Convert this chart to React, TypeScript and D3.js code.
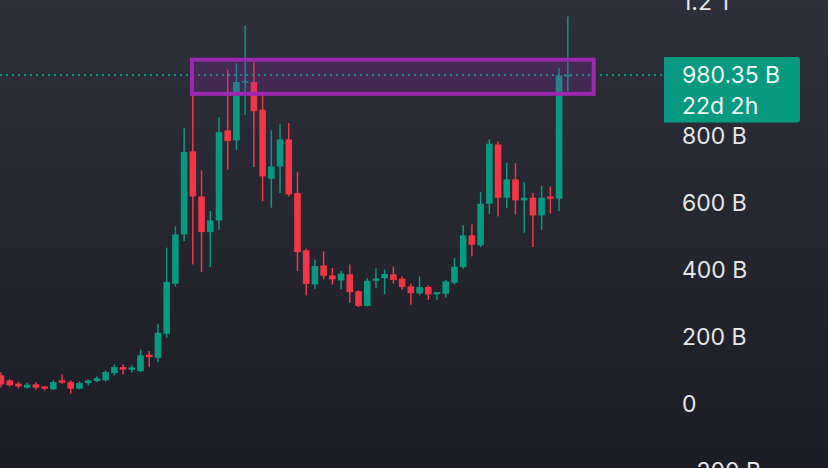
import React from "react";
import * as d3 from "d3";

// OHLC values in billions (B)
const opens = [83.6, 68.7, 58.8, 46.9, 56.7, 50.7, 41.8, 68.7, 63.6, 43.9, 60.6, 66.6, 68.7, 90.4, 108.4, 100.6, 96.4, 145.4, 136.4, 208.1, 357.3, 504.5, 752.2, 617.9, 511.3, 546.3, 814.9, 785.1, 957, 959.1, 876.7, 670.8, 707.4, 788.0, 627.8, 456.7, 355.2, 411.9, 382.1, 367.2, 385.1, 334.9, 291.0, 366.3, 373.7, 385.1, 372.2, 349.2, 328.4, 347.8, 325.4, 327.4, 359.7, 406.9, 501.5, 471.6, 596.1, 773.1, 614.0, 668.6, 606.0, 614.0, 561.2, 617.9, 611.0, 976.5];
const highs = [92.5, 71.6, 64.2, 61.8, 63.6, 52.2, 68.7, 86.6, 68.7, 65.7, 71.6, 80.6, 98.5, 116.4, 116.4, 113.4, 160.3, 156.7, 237.9, 464.8, 528.3, 823.0, 974.6, 695.5, 574.0, 854.6, 996.1, 1014.9, 1128.3, 1023.9, 921.5, 814.9, 832.8, 836.7, 690.4, 461.8, 429.2, 453.7, 404.5, 394.9, 414.9, 337.3, 374.6, 403.0, 399.4, 409.0, 379.1, 357.3, 379.1, 352.2, 332.2, 368.6, 434.3, 532.2, 534.3, 630.7, 788.0, 782.1, 718.5, 717.3, 660.6, 627.8, 648.6, 647.7, 1000.9, 1155.2];
const lows = [47.8, 50.7, 43.9, 44.8, 40.9, 38.8, 40.3, 58.8, 29.0, 41.8, 53.7, 63.6, 65.7, 83.6, 86.6, 91.6, 93.4, 109.0, 123.3, 196.1, 349.2, 484.5, 414.9, 391.9, 406.9, 518.5, 697.6, 757.3, 859.7, 705.4, 603.0, 584.2, 627.8, 617.9, 394.9, 322.4, 342.4, 370.1, 354.6, 340.3, 300.0, 287.4, 289.5, 344.8, 326.3, 358.2, 339.4, 294.9, 322.4, 308.9, 309.5, 315.5, 355.2, 402.1, 438.8, 466.6, 566.2, 558.2, 583.0, 564.2, 509.5, 466.6, 518.5, 566.2, 574.0, 932.2];
const closes = [56.7, 53.7, 50.7, 55.8, 46.9, 43.9, 63.6, 61.8, 43.9, 60.6, 68.7, 75.5, 93.4, 108.4, 100.6, 107.5, 143.3, 138.2, 211.0, 362.1, 504.5, 750.1, 617.9, 511.3, 546.3, 809.8, 783.0, 959.1, 962.7, 872.2, 677.6, 707.4, 788.0, 623.9, 451.6, 356.7, 409.8, 380.6, 370.1, 387.2, 332.2, 291.0, 366.3, 373.1, 386.3, 368.1, 347.2, 329.2, 347.2, 325.4, 332.2, 364.2, 407.5, 501.5, 473.7, 596.1, 775.2, 614.0, 668.6, 606.0, 614.0, 561.2, 614.0, 611.0, 979.1, 980.35];

// visible axis ticks (the 1 T tick is hidden behind the price label)
const tickValues = [-200, 0, 200, 400, 600, 800, 1200];
const tickLabels = ["\u2212200 B", "0", "200 B", "400 B", "600 B", "800 B", "1.2 T"];

const lastPrice = 980.35;
const lastPriceLabel = "980.35 B";
const countdownLabel = "22d 2h";

// highlighted zone (index range and value range)
const zoneIndex = [21.9, 67.97];
const zoneValues = [924, 1026];

const W = 828;
const H = 468;
const UP = "#089981";
const DOWN = "#f23645";

export default function App() {
  const n = opens.length;
  const x = d3.scaleLinear().domain([0, n - 1]).range([1, 567.8]);
  const y = d3.scaleLinear().domain([-200, 1200]).range([470.4, 1.4]);
  const bodyW = 6.6;

  const candles = opens.map((o, i) => {
    const c = closes[i];
    const up = c >= o;
    const color = up ? UP : DOWN;
    const cx = x(i);
    const top = y(Math.max(o, c));
    const bot = y(Math.min(o, c));
    return (
      <g key={i}>
        <rect x={cx - 0.75} y={y(highs[i])} width={1.5} height={y(lows[i]) - y(highs[i])} fill={color} />
        <rect x={cx - bodyW / 2} y={top} width={bodyW} height={Math.max(1.6, bot - top)} fill={color} />
      </g>
    );
  });

  const py = y(lastPrice);
  const zx0 = x(zoneIndex[0]);
  const zx1 = x(zoneIndex[1]);
  const zy0 = y(zoneValues[1]);
  const zy1 = y(zoneValues[0]);

  return (
    <svg width={W} height={H} style={{ position: "absolute", left: 0, top: 0, display: "block" }}>
      <defs>
        <linearGradient id="bg" x1="0" y1="0" x2="0" y2="1">
          <stop offset="0%" stopColor="#2d2f3a" />
          <stop offset="100%" stopColor="#1b1c25" />
        </linearGradient>
      </defs>
      <rect x={0} y={0} width={W} height={H} fill="url(#bg)" />
      {candles}
      <line x1={0} x2={662} y1={py} y2={py} stroke={UP} strokeWidth={2} strokeDasharray="2 4" />
      <rect
        x={zx0}
        y={zy0}
        width={zx1 - zx0}
        height={zy1 - zy0}
        fill="rgba(156,39,176,0.22)"
        stroke="#9c27b0"
        strokeWidth={4}
      />
      <g fontFamily="Inter, Roboto, sans-serif" fontSize={23} fill="#e6e6e8">
        {tickValues.map((v, i) => (
          <text key={i} x={682} y={y(v) + 8.5}>
            {tickLabels[i]}
          </text>
        ))}
      </g>
      <path
        d={`M664,${py - 18} H797 Q800,${py - 18} 800,${py - 15} V${py + 44.5} Q800,${py + 47.5} 797,${py + 47.5} H664 Z`}
        fill={UP}
      />
      <g fontFamily="Inter, Roboto, sans-serif" fontSize={23} fill="#ecf7f4">
        <text x={682} y={py + 8.5}>{lastPriceLabel}</text>
        <text x={682} y={py + 39}>{countdownLabel}</text>
      </g>
    </svg>
  );
}
